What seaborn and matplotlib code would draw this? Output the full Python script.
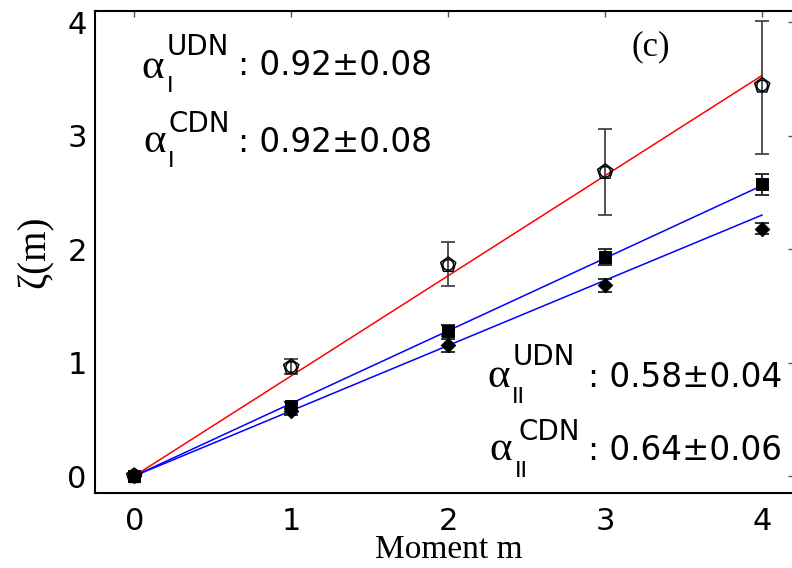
import matplotlib
matplotlib.use("Agg")
import matplotlib.pyplot as plt
import seaborn as sns
import pandas as pd

# ---- data ----
moments = [0, 1, 2, 3, 4]
zeta_open = [0.0, 0.96, 1.86, 2.68, 3.44]
err_open_lo = [0.0, 0.06, 0.19, 0.38, 0.60]
err_open_hi = [0.0, 0.07, 0.20, 0.38, 0.57]
zeta_square = [0.0, 0.62, 1.28, 1.93, 2.57]
err_square = [0.0, 0.03, 0.05, 0.07, 0.09]
zeta_diamond = [0.0, 0.57, 1.15, 1.68, 2.18]
err_diamond = [0.0, 0.03, 0.06, 0.06, 0.05]
fit_x = [0, 4]
fit_red = [0.0, 3.53]
fit_blue_upper = [0.0, 2.56]
fit_blue_lower = [0.0, 2.30]
x_ticks = [0, 1, 2, 3, 4]
y_ticks = [0, 1, 2, 3, 4]
annot_sup = ["UDN", "CDN", "UDN", "CDN"]
annot_sub = ["I", "I", "II", "II"]
annot_val = [": 0.92±0.08", ": 0.92±0.08", ": 0.58±0.04", ": 0.64±0.06"]

sns.set_theme(style="white")
plt.rcParams['font.family'] = ['DejaVu Sans']
plt.rcParams['text.color'] = 'black'
plt.rcParams['axes.labelcolor'] = 'black'

W, H = 792, 568
fig = plt.figure(figsize=(W / 100, H / 100), dpi=100)
left, right, top, bottom = 95, 793.6, 11, 492.7
ax = fig.add_axes([left / W, 1 - bottom / H, (right - left) / W, (bottom - top) / H])
ax.set_facecolor('white')

fits = pd.DataFrame({
    'm': fit_x * 3,
    'zeta': fit_red + fit_blue_upper + fit_blue_lower,
    'fit': ['red'] * 2 + ['bu'] * 2 + ['bl'] * 2,
})
sns.lineplot(data=fits, x='m', y='zeta', hue='fit',
             palette={'red': '#ff0000', 'bu': '#0000ff', 'bl': '#0000ff'},
             linewidth=1.1, legend=False, ax=ax, zorder=2)

ax.errorbar(moments, zeta_open, yerr=[err_open_lo, err_open_hi], fmt='none',
            ecolor='#454545', elinewidth=1.3, capsize=5, capthick=1.3, zorder=3)
ax.errorbar(moments, zeta_square, yerr=err_square, fmt='none',
            ecolor='#202020', elinewidth=1.3, capsize=5, capthick=1.3, zorder=3)
ax.errorbar(moments, zeta_diamond, yerr=err_diamond, fmt='none',
            ecolor='#202020', elinewidth=1.3, capsize=5, capthick=1.3, zorder=3)

ax.scatter(moments, zeta_open, marker='p', s=130, facecolors='none',
           edgecolors='black', linewidths=1.1, zorder=4)
ax.scatter(moments, zeta_open, marker='o', s=60, facecolors='none',
           edgecolors='black', linewidths=1.1, zorder=4)
sns.scatterplot(x=moments, y=zeta_square, marker='s', s=70, color='black',
                edgecolor='black', ax=ax, zorder=5)
sns.scatterplot(x=moments, y=zeta_diamond, marker='D', s=55, color='black',
                edgecolor='black', ax=ax, zorder=5)

ax.set_xlim(-0.25, 4.2)
ax.set_ylim(-0.147, 4.097)
ax.set_xticks(x_ticks)
ax.set_yticks(y_ticks)
ax.set_xticklabels([str(t) for t in x_ticks])
ax.set_yticklabels([str(t) for t in y_ticks])
ax.tick_params(axis='both', direction='in', length=4, width=1, color='#555555',
               labelsize=22, labelcolor='black', top=True, right=True)
ax.tick_params(axis='x', pad=10)
ax.tick_params(axis='y', pad=6)
for s in ax.spines.values():
    s.set_color('black')
    s.set_linewidth(1.5)

ax.set_xlabel('Moment m', family='Liberation Serif', fontsize=24, color='black')
ax.xaxis.label.set_verticalalignment('baseline')
ax.xaxis.set_label_coords(0.506, (bottom - 558) / (bottom - top))
ax.set_ylabel('ζ(m)', family='Liberation Serif', fontsize=28, labelpad=10, color='black')

def px(x, y):
    return (x / W, 1 - y / H)

# layout of annotation pieces (pixel positions)
alpha_pos = [(141, 78), (143, 152), (487, 387), (489, 460)]
sup_pos = [(167, 55), (169, 132), (513, 365), (518, 440)]
sub_pos = [(167, 92), (168, 167), (512, 403), (515, 477)]
val_pos = [(238, 75), (238, 152), (782, 387), (782, 460)]
val_ha = ['left', 'left', 'right', 'right']
for i in range(4):
    fig.text(*px(*alpha_pos[i]), 'α', family='Liberation Serif', fontsize=31,
             ha='left', va='baseline', color='black')
    fig.text(*px(*sup_pos[i]), annot_sup[i], fontsize=20, ha='left', va='baseline',
             color='black')
    fig.text(*px(*sub_pos[i]), annot_sub[i], fontsize=16, ha='left', va='baseline',
             color='black')
    fig.text(*px(*val_pos[i]), annot_val[i], fontsize=23.5, ha=val_ha[i], va='baseline',
             color='black')

fig.text(*px(651, 47), '(c)', family='Liberation Serif', fontsize=25, ha='center',
         va='center', color='black')

fig.savefig('out.png', dpi=100)
